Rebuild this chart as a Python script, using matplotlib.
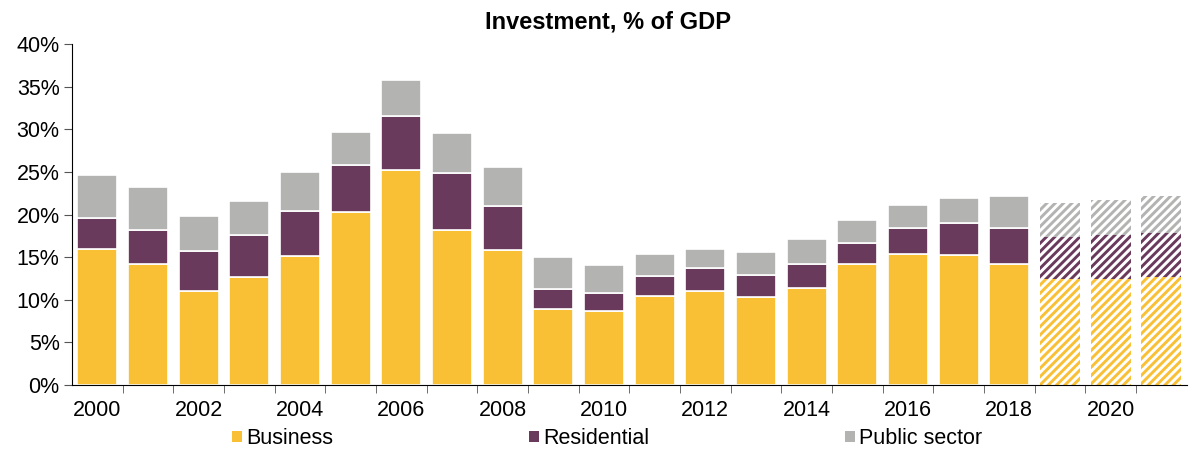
import numpy as np
import matplotlib
matplotlib.use("Agg")
import matplotlib.pyplot as plt
from matplotlib.patches import Patch

plt.rcParams['font.family'] = ['Liberation Sans', 'DejaVu Sans']
plt.rcParams['hatch.linewidth'] = 2.1

# Datos
years = list(range(2000, 2022))
business = [16.0, 14.2, 11.0, 12.7, 15.1, 20.3, 25.3, 18.2, 15.8, 8.9, 8.7,
            10.4, 11.0, 10.3, 11.4, 14.2, 15.4, 15.3, 14.2, 12.5, 12.5, 12.7]
residential = [3.6, 4.0, 4.7, 4.9, 5.3, 5.5, 6.3, 6.7, 5.2, 2.4, 2.1,
               2.4, 2.7, 2.6, 2.8, 2.5, 3.0, 3.7, 4.2, 4.9, 5.1, 5.2]
public = [5.1, 5.1, 4.2, 4.0, 4.6, 3.9, 4.2, 4.7, 4.6, 3.7, 3.3,
          2.6, 2.3, 2.7, 2.9, 2.7, 2.7, 3.0, 3.8, 4.0, 4.1, 4.3]
forecast_from = 2019

series = [("Business", business, "#F9C035"),
          ("Residential", residential, "#6A3A5C"),
          ("Public sector", public, "#B3B4B2")]

fs = 15.5

fig = plt.figure(figsize=(11.89, 4.51), dpi=100)
ax = fig.add_axes([0.0606, 0.1463, 0.9374, 0.7555])

x = np.arange(len(years))
bottom = np.zeros(len(years))
for name, vals, col in series:
    vals = np.array(vals)
    for i, yr in enumerate(years):
        if yr < forecast_from:
            ax.bar(x[i], vals[i], bottom=bottom[i], width=0.79, color=col,
                   edgecolor="white", linewidth=1.2)
        else:
            # previsiones: barras rayadas
            ax.bar(x[i], vals[i], bottom=bottom[i], width=0.79, facecolor="white",
                   edgecolor=col, hatch="////", linewidth=0)
    bottom += vals

ax.set_xlim(-0.5, len(years) - 0.5)
ax.set_ylim(0, 40)
ax.set_yticks(np.arange(0, 41, 5))
ax.set_yticklabels([f"{v}%" for v in range(0, 41, 5)], fontsize=fs)
ax.set_xticks(x[::2])
ax.set_xticklabels([str(y) for y in years[::2]], fontsize=fs)
ax.tick_params(axis="x", length=0, pad=11)
ax.set_xticks(np.arange(0.5, len(years) - 0.5, 1), minor=True)
ax.tick_params(axis="x", which="minor", length=6, color="#555555")
ax.tick_params(axis="y", length=6, color="#555555", pad=3)

for s in ["top", "right"]:
    ax.spines[s].set_visible(False)
ax.spines["left"].set_color("black")
ax.spines["bottom"].set_color("black")

fig.text(0.511, 0.952, "Investment, % of GDP", fontsize=17, fontweight="bold",
         ha="center", va="center")

handles = [Patch(facecolor=c, edgecolor="none", label=n) for n, _, c in series]
fig.legend(handles=handles, loc="center", bbox_to_anchor=(0.5107, 0.027), ncol=3,
           frameon=False, fontsize=fs, handlelength=0.45, handleheight=0.45,
           handletextpad=0.2, columnspacing=9.1, borderpad=0, borderaxespad=0)

fig.savefig("out.png", dpi=100)
